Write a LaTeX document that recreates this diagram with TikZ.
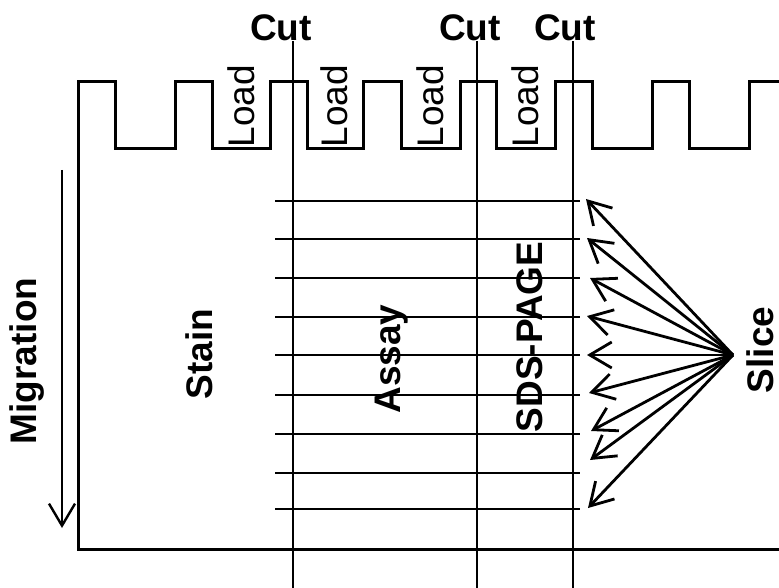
\documentclass[tikz,border=0pt]{standalone}
\usepackage{fontspec}
\setmainfont{Liberation Sans}
\usetikzlibrary{arrows.meta}

\begin{document}
\begin{tikzpicture}[x=1pt,y=-1pt,
  gel/.style={line width=3pt,line join=miter},
  band/.style={line width=2.2pt},
  cutline/.style={line width=1.5pt},
  fan/.style={line width=2.8pt,-{Straight Barb[length=22pt,width=26pt]}},
  cutlbl/.style={font=\fontsize{37}{40}\selectfont\bfseries,inner sep=0pt},
  lbl/.style={font=\fontsize{37}{40}\selectfont\bfseries,inner sep=0pt,rotate=90},
  load/.style={font=\fontsize{37}{40}\selectfont,inner sep=0pt,rotate=90}]
\useasboundingbox (0,0) rectangle (779,588);

% gel with the comb wells
\draw[gel] (779,549) -- (78,549) -- (78,82) -- (115,82) -- (115,149) -- (175,149) -- (175,82)
  -- (212,82) -- (212,149) -- (270,149) -- (270,82) -- (307,82) -- (307,149) -- (363,149)
  -- (363,82) -- (401,82) -- (401,149) -- (460,149) -- (460,82) -- (496,82) -- (496,149)
  -- (555,149) -- (555,82) -- (592,82) -- (592,149) -- (652,149) -- (652,82) -- (689,82)
  -- (689,149) -- (749,149) -- (749,82) -- (779,82);

\node[load] (load1) at (241,106) {Load};
\node[load] (load2) at (334,106) {Load};
\node[load] (load3) at (430,106) {Load};
\node[load] (load4) at (525,106) {Load};

% slices
\draw[band] (275,201) -- (580,201);
\draw[band] (275,239) -- (580,239);
\draw[band] (275,278) -- (580,278);
\draw[band] (275,317) -- (580,317);
\draw[band] (275,355) -- (580,355);
\draw[band] (275,395) -- (580,395);
\draw[band] (275,434) -- (580,434);
\draw[band] (275,473) -- (580,473);
\draw[band] (275,509) -- (580,509);

% cuts
\node[cutlbl] (cut1) at (281,28) {Cut};
\node[cutlbl] (cut2) at (470,28) {Cut};
\node[cutlbl] (cut3) at (565,28) {Cut};
\coordinate (k1) at (293,588);
\coordinate (k2) at (477,588);
\coordinate (k3) at (573,588);
\draw[cutline] (cut1.south -| k1) -- (k1);
\draw[cutline] (cut2.south -| k2) -- (k2);
\draw[cutline] (cut3.south -| k3) -- (k3);

% migration
\coordinate (m0) at (62,170);
\coordinate (m1) at (62,528);
\draw[fan,line width=2.4pt] (m0) -- (m1);
\node[lbl] (mig) at (27,361) {Migration};

\node[lbl] (stain) at (199,354) {Stain};
\node[lbl] (assay) at (392,359) {Assay};
\node[lbl] (sds) at (530,337) {SDS-PAGE};
\node[lbl] (slice) at (760,350) {Slice};

% fan of slice arrows
\coordinate (slc) at (733,355);
\coordinate (t1) at (586,199);
\coordinate (t2) at (587,238);
\coordinate (t3) at (590,278);
\coordinate (t4) at (587,316);
\coordinate (t5) at (587,355);
\coordinate (t6) at (589,393);
\coordinate (t7) at (591,431);
\coordinate (t8) at (590,460);
\coordinate (t9) at (588,508);
\draw[fan] (slc) -- (t1);
\draw[fan] (slc) -- (t2);
\draw[fan] (slc) -- (t3);
\draw[fan] (slc) -- (t4);
\draw[fan] (slc) -- (t5);
\draw[fan] (slc) -- (t6);
\draw[fan] (slc) -- (t7);
\draw[fan] (slc) -- (t8);
\draw[fan] (slc) -- (t9);
\end{tikzpicture}
\end{document}
